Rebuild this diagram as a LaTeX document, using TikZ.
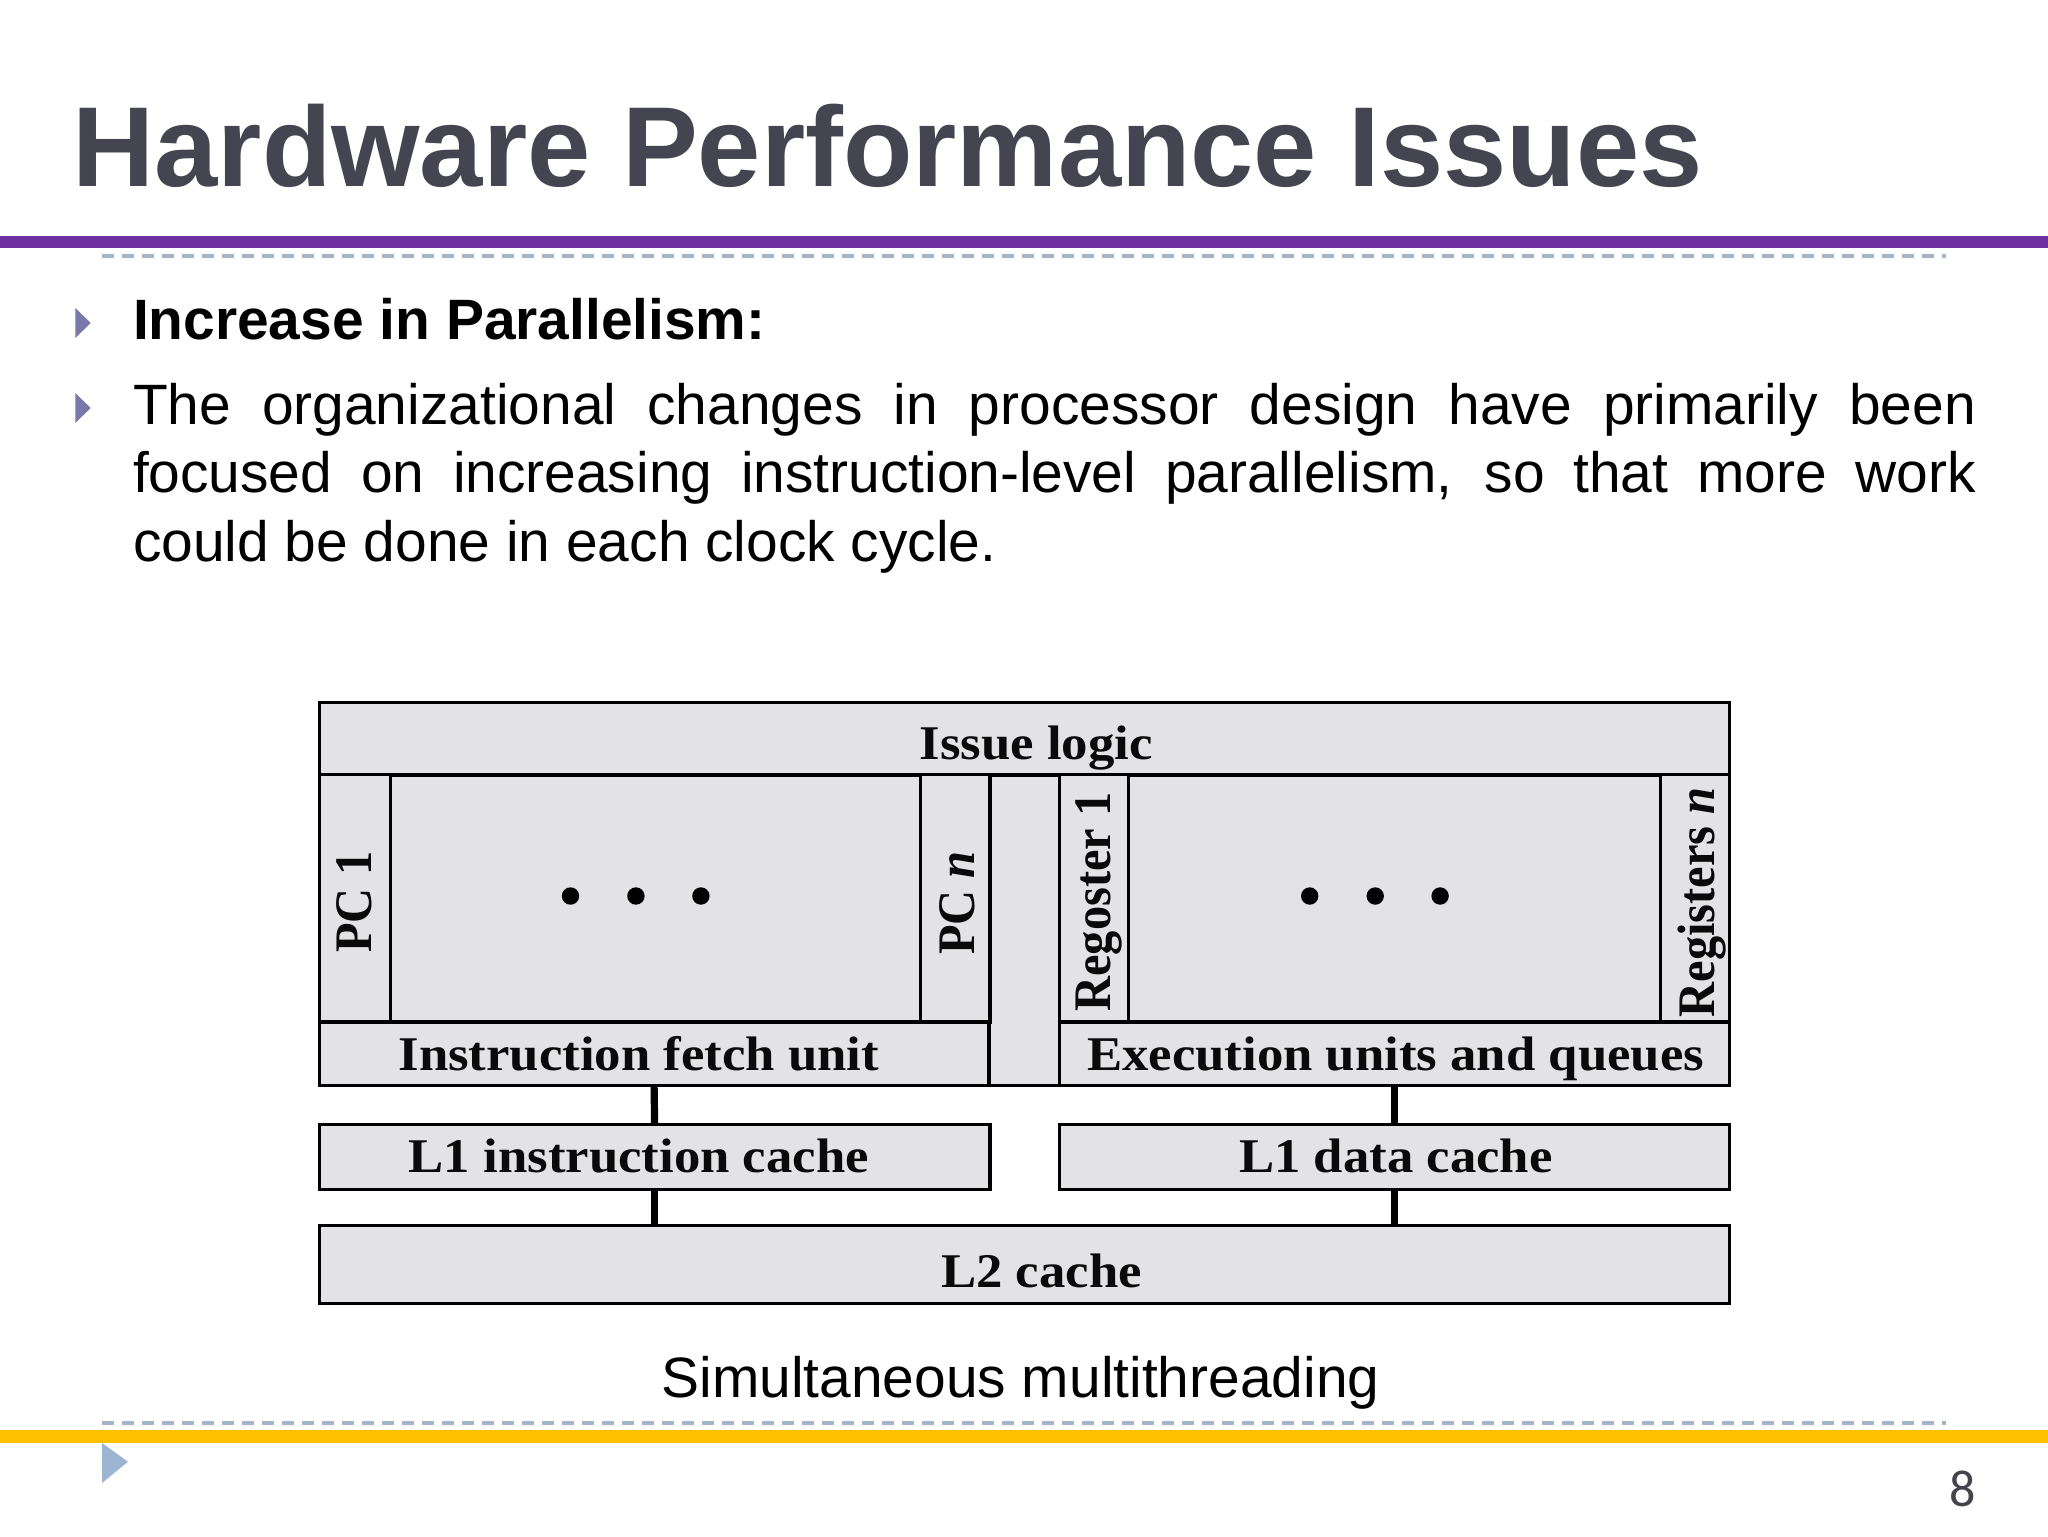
\documentclass[tikz,border=0pt]{standalone}
\usepackage{fontspec}
\usepackage{graphicx}
\setmainfont{Liberation Serif}
\newfontfamily\slidesans{Liberation Sans}
\newfontfamily\pagefont{Carlito}
\definecolor{titlegray}{HTML}{454551}
\definecolor{barpurple}{HTML}{7030A0}
\definecolor{baryellow}{HTML}{FFC000}
\definecolor{dashblue}{HTML}{A3B5C6}
\definecolor{bulletblue}{HTML}{7779A9}
\definecolor{cornerblue}{HTML}{9DB5D0}
\definecolor{boxgray}{HTML}{E3E2E4}
\definecolor{inkblack}{HTML}{0A0A0A}
\definecolor{pagegray}{HTML}{44444C}
\tikzset{
  x=0.5pt,y=-0.5pt,
  hw/.style={draw=black,fill=boxgray,line width=1.8pt,inner sep=0pt,outer sep=0pt,rectangle},
  thinhw/.style={hw,line width=1.5pt},
  hwlabel/.style={inner sep=0pt,outer sep=0pt,anchor=base,font=\fontsize{24.2}{28}\selectfont\bfseries,text=inkblack},
  hwside/.style={inner sep=0pt,outer sep=0pt,anchor=base west,rotate=90,font=\fontsize{24.2}{28}\selectfont\bfseries,text=inkblack},
  hwdot/.style={circle,fill=black,inner sep=0pt,outer sep=0pt,minimum size=8.7pt},
  link/.style={draw=black,line width=3.6pt},
  bodytext/.style={inner sep=0pt,outer sep=0pt,anchor=base west,font=\slidesans\fontsize{28.45}{34.15}\selectfont,text=black},
  dashrule/.style={draw=dashblue,line width=1.9pt,dash pattern=on 6pt off 4pt},
}
\newcommand{\hwbox}[6][hw]{%
  \node[#1,minimum width={(#5-#3)*0.5pt},minimum height={(#6-#4)*0.5pt}] (#2) at ({(#3+#5)/2},{(#4+#6)/2}) {};%
}
\newcommand{\wide}[1]{\scalebox{1.09}[1]{#1}}
\newcommand{\tall}[1]{\scalebox{1}[1.09]{#1}}
\begin{document}
\begin{tikzpicture}
\useasboundingbox (0,0) rectangle (2048,1536);
\fill[white] (0,0) rectangle (2048,1536);

% title and rules
\node[inner sep=0pt,outer sep=0pt,anchor=base west,font=\slidesans\bfseries\fontsize{56.85}{60}\selectfont,text=titlegray] (title) at (72.5,186.2) {Hardware Performance Issues};
\fill[barpurple] (0,236) rectangle (2048,248);
\draw[dashrule] (102,255.7) -- (1946,255.7);
\draw[dashrule] (102,1422.7) -- (1946,1422.7);
\fill[baryellow] (0,1430) rectangle (2048,1443);
\fill[cornerblue] (102,1443) -- (128,1461.7) -- (102,1483) -- cycle;

% bullets and body text
\fill[bulletblue] (75.3,308) -- (90.7,323) -- (75.3,338) -- cycle;
\fill[bulletblue] (75.3,393) -- (90.7,408) -- (75.3,423) -- cycle;
\node[bodytext,font=\slidesans\bfseries\fontsize{28.45}{34.15}\selectfont] (head) at (133,339) {Increase in Parallelism:};
\node[bodytext,text width=921.5pt,align=justify] (para) at (133,424.5) {\tolerance=9999 The organizational changes in processor design have primarily been\linebreak focused on increasing instruction-level parallelism, so that more work\linebreak could be done in each clock cycle.};

% diagram boxes
\hwbox{core}{319.4}{702.3}{1729.5}{1085.5}
\hwbox{issue}{319.4}{702.3}{1729.5}{774.7}
\hwbox{pcleft}{319.4}{774.7}{989.8}{1021.9}
\hwbox[thinhw]{pcone}{319.4}{774.7}{390.6}{1021.9}
\hwbox[thinhw]{pcen}{920.5}{774.7}{989.8}{1021.9}
\hwbox{regright}{1059.6}{774.7}{1729.5}{1021.9}
\hwbox[thinhw]{regone}{1059.6}{774.7}{1128.9}{1021.9}
\hwbox[thinhw]{regen}{1660.2}{774.7}{1729.5}{1021.9}
\hwbox{fetch}{319.4}{1021.9}{988.8}{1085.5}
\hwbox{exec}{1059.6}{1021.9}{1729.5}{1085.5}
\hwbox{lonei}{319.4}{1124.6}{989.8}{1189.5}
\hwbox{loned}{1059.6}{1124.6}{1729.5}{1189.5}
\hwbox{ltwo}{319.4}{1225.3}{1729.5}{1303.6}

% connectors
\draw[link] (fetch.south) -- (lonei.north);
\draw[link] (exec.south) -- (loned.north);
\draw[link] (lonei.south) -- (lonei.south |- ltwo.north);
\draw[link] (loned.south) -- (loned.south |- ltwo.north);

% dots
\node[hwdot] (dl1) at (570.5,896) {};
\node[hwdot] (dl2) at (635.9,896) {};
\node[hwdot] (dl3) at (700.9,896) {};
\node[hwdot] (dr1) at (1309.7,896) {};
\node[hwdot] (dr2) at (1375.2,896) {};
\node[hwdot] (dr3) at (1440.1,896) {};

% labels
\node[hwlabel] (tissue) at (1036,759.7) {\wide{Issue logic}};
\node[hwlabel] (tfetch) at (638.9,1070.7) {\wide{Instruction fetch unit}};
\node[hwlabel] (texec) at (1395.6,1070.7) {\wide{Execution units and queues}};
\node[hwlabel] (tlonei) at (638.8,1172.6) {\wide{L1 instruction cache}};
\node[hwlabel] (tloned) at (1395.8,1172.6) {\wide{L1 data cache}};
\node[hwlabel] (tltwo) at (1041.5,1287.6) {\wide{L2 cache}};
\node[hwside] (tpcone) at (371.7,952.6) {\tall{PC 1}};
\node[hwside] (tpcen) at (974.3,954.7) {\tall{PC \textit{n}}};
\node[hwside] (tregone) at (1110.5,1011.5) {\tall{Regoster 1}};
\node[hwside] (tregen) at (1714,1017.2) {\tall{Registers \textit{n}}};

% caption and page number
\node[bodytext,anchor=base] (caption) at (1020.5,1397.7) {Simultaneous multithreading};
\node[inner sep=0pt,outer sep=0pt,anchor=base,font=\pagefont\fontsize{26}{30}\selectfont,text=pagegray] (pageno) at (1963,1506) {8};
\end{tikzpicture}
\end{document}
